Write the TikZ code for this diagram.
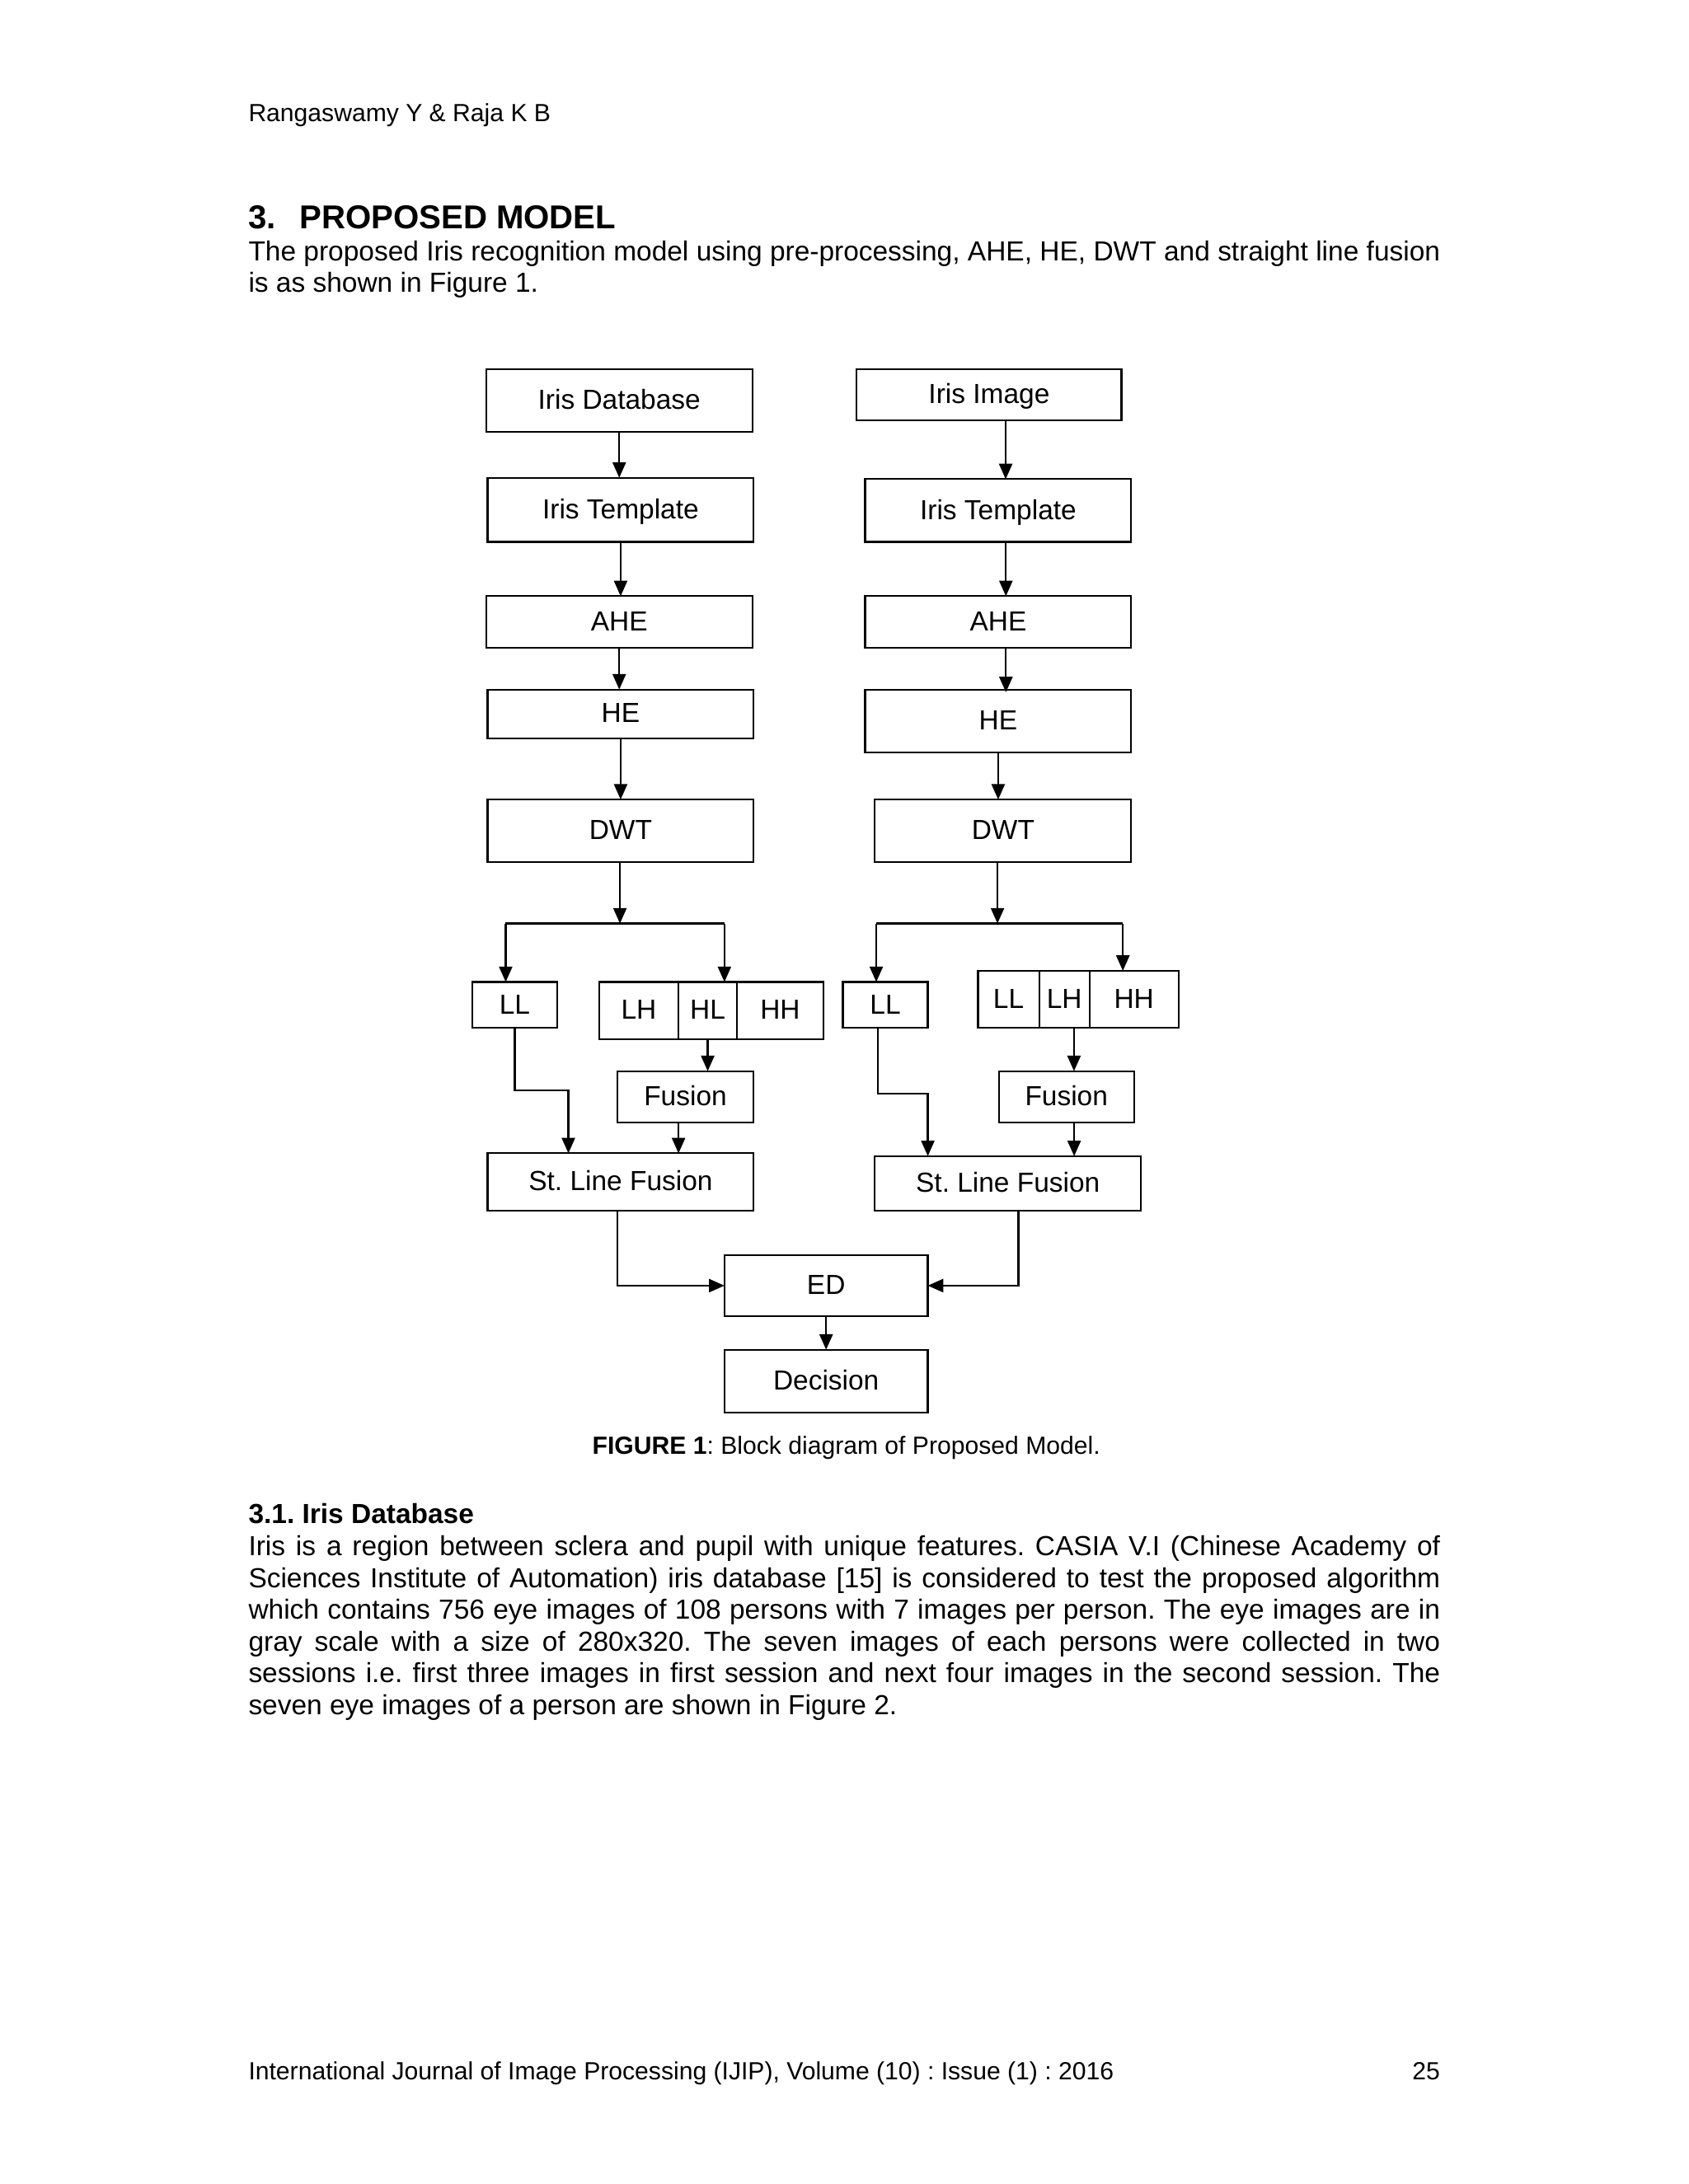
\documentclass[tikz,border=0pt]{standalone}
\usepackage{fontspec}
\setmainfont{Liberation Sans}
\usetikzlibrary{arrows.meta, positioning}
\tikzset{
	>={Triangle[length=5.6pt,width=4.8pt]}, % punta de flecha rellena
	box/.style={draw, line width=0.65pt, inner sep=0pt, outer sep=0pt,
		text height=7.2pt, text depth=0.8pt, font=\fontsize{10}{12}\selectfont}, % cajas del diagrama
	boxsize/.style 2 args={minimum width=#1*0.505pt, minimum height=#2*0.505pt}, % ancho y alto
	arr/.style={->, line width=0.65pt}, % flechas
	link/.style={line width=0.65pt}, % lineas sin punta
	txt/.style={anchor=base west, inner sep=0pt} % texto de la pagina
}
\hyphenpenalty=10000
\exhyphenpenalty=10000

\begin{document}
\frenchspacing
\begin{tikzpicture}[x=0.505pt, y=-0.505pt]
	\fill[white] (0,0) rectangle (1212,1568);
	\useasboundingbox (0,0) rectangle (1212,1568);

	% texto de la pagina
	\node[txt, font=\fontsize{9}{11}\selectfont] (hdr) at (178,87.5) {Rangaswamy Y \& Raja K B};
	\node[txt, font=\bfseries\fontsize{12}{14}\selectfont] (sec) at (178,164) {3.\hspace{8.5pt}PROPOSED MODEL};
	\node[txt, text width=432pt, align=justify, font=\fontsize{10}{11.6}\selectfont] (par1) at (178,187)
		{The proposed Iris recognition model using pre-processing, AHE, HE, DWT and straight line fusion\linebreak
		is as shown in Figure 1.};

	% rama izquierda
	\node[box, boxsize={191}{45}] (dbL) at (444.5,287.5) {Iris Database};
	\node[box, boxsize={191}{46}] (tmplL) at (445.5,366) {Iris Template};
	\node[box, boxsize={191}{37}] (aheL) at (444.5,446.5) {AHE};
	\node[box, boxsize={191}{35}] (heL) at (445.5,512.5) {HE};
	\node[box, boxsize={191}{45}] (dwtL) at (445.5,596.5) {DWT};
	\node[box, boxsize={61}{33}] (llL) at (369.5,721.5) {LL};
	\node[box, boxsize={57}{41}] (lhL) at (458.5,725.5) {LH};
	\node[box, boxsize={42}{41}, right=0pt of lhL] (hlL) {HL};
	\node[box, boxsize={62}{41}, right=0pt of hlL] (hhL) {HH};
	\node[box, boxsize={98}{37}] (fusL) at (492,787.5) {Fusion};
	\node[box, boxsize={191}{41}] (slfL) at (445.5,848.5) {St. Line Fusion};

	% rama derecha
	\node[box, boxsize={190}{37}] (imgR) at (710,283.5) {Iris Image};
	\node[box, boxsize={191}{45}] (tmplR) at (716.5,366.5) {Iris Template};
	\node[box, boxsize={191}{37}] (aheR) at (716.5,446.5) {AHE};
	\node[box, boxsize={191}{45}] (heR) at (716.5,517.5) {HE};
	\node[box, boxsize={184}{45}] (dwtR) at (720,596.5) {DWT};
	\node[box, boxsize={61}{33}] (llR) at (635.5,721.5) {LL};
	\node[box, boxsize={44}{41}] (llbR) at (724,717.5) {LL};
	\node[box, boxsize={36}{41}, right=0pt of llbR] (lhR) {LH};
	\node[box, boxsize={64}{41}, right=0pt of lhR] (hhR) {HH};
	\node[box, boxsize={97}{37}] (fusR) at (765.5,787.5) {Fusion};
	\node[box, boxsize={191}{39}] (slfR) at (723.5,849.5) {St. Line Fusion};

	% decision
	\node[box, boxsize={146}{44}] (ed) at (593,923) {ED};
	\node[box, boxsize={146}{45}] (dec) at (593,991.5) {Decision};

	% puntos de reparto
	\coordinate (brL) at (445,663);
	\coordinate (brLa) at (363,663);
	\coordinate (brLb) at (520,663);
	\coordinate (kL) at (408,783);
	\coordinate (brR) at (716,663);
	\coordinate (brRa) at (629,663);
	\coordinate (brRb) at (806,663);
	\coordinate (kR) at (666,785);

	% conexiones izquierda
	\draw[arr] (dbL.south) -- (dbL.south |- tmplL.north);
	\draw[arr] (tmplL.south) -- (tmplL.south |- aheL.north);
	\draw[arr] (aheL.south) -- (aheL.south |- heL.north);
	\draw[arr] (heL.south) -- (heL.south |- dwtL.north);
	\draw[arr] (dwtL.south -| brL) -- (brL);
	\draw[link] (brLa) -- (brLb);
	\draw[arr] (brLa) -- (brLa |- llL.north);
	\draw[arr] (brLb) -- (brLb |- hlL.north);
	\draw[arr] (hlL.south) -- (hlL.south |- fusL.north);
	\draw[arr] (llL.south) |- (kL) -- (kL |- slfL.north);
	\draw[arr] ([xshift=-2.5pt]fusL.south) -- ([xshift=-2.5pt]fusL.south |- slfL.north);
	\draw[arr] ([xshift=-1.2pt]slfL.south) |- (ed.west);

	% conexiones derecha
	\draw[arr] ([xshift=6pt]imgR.south) -- ([xshift=6pt]imgR.south |- tmplR.north);
	\draw[arr] ([xshift=2.8pt]tmplR.south) -- ([xshift=2.8pt]tmplR.south |- aheR.north);
	\draw[arr] ([xshift=2.8pt]aheR.south) -- ([xshift=2.8pt,yshift=-1pt]aheR.south |- heR.north);
	\draw[arr] (heR.south) -- (heR.south |- dwtR.north);
	\draw[arr] (dwtR.south -| brR) -- (brR);
	\draw[link] (brRa) -- (brRb);
	\draw[arr] (brRa) -- (brRa |- llR.north);
	\draw[arr] (brRb) -- (brRb |- hhR.north);
	\draw[arr] ([xshift=3.5pt]lhR.south) -- ([xshift=3.5pt]lhR.south |- fusR.north);
	\draw[arr] ([xshift=-2.7pt]llR.south) |- (kR) -- (kR |- slfR.north);
	\draw[arr] ([xshift=2.8pt]fusR.south) -- ([xshift=2.8pt]fusR.south |- slfR.north);
	\draw[arr] ([xshift=3.8pt]slfR.south) |- (ed.east);
	\draw[arr] (ed.south) -- (dec.north);

	% texto bajo la figura
	\node[anchor=base, inner sep=0pt, font=\fontsize{9}{11}\selectfont] (cap) at (607.5,1044)
		{\textbf{FIGURE 1}: Block diagram of Proposed Model.};
	\node[txt, font=\bfseries\fontsize{10}{12}\selectfont] (sub) at (178,1094) {3.1. Iris Database};
	\node[txt, text width=432pt, align=justify, font=\fontsize{10}{11.5}\selectfont] (par2) at (178,1117)
		{Iris is a region between sclera and pupil with unique features. CASIA V.I (Chinese Academy of\linebreak
		Sciences Institute of Automation) iris database [15] is considered to test the proposed algorithm\linebreak
		which contains 756 eye images of 108 persons with 7 images per person. The eye images are in\linebreak
		gray scale with a size of 280x320. The seven images of each persons were collected in two\linebreak
		sessions i.e. first three images in first session and next four images in the second session. The\linebreak
		seven eye images of a person are shown in Figure 2.};
	\node[txt, font=\fontsize{9}{11}\selectfont] (foot) at (178,1493)
		{International Journal of Image Processing (IJIP), Volume (10) : Issue (1) : 2016};
	\node[anchor=base east, inner sep=0pt, font=\fontsize{9}{11}\selectfont] (pg) at (1034,1493) {25};
\end{tikzpicture}
\end{document}
